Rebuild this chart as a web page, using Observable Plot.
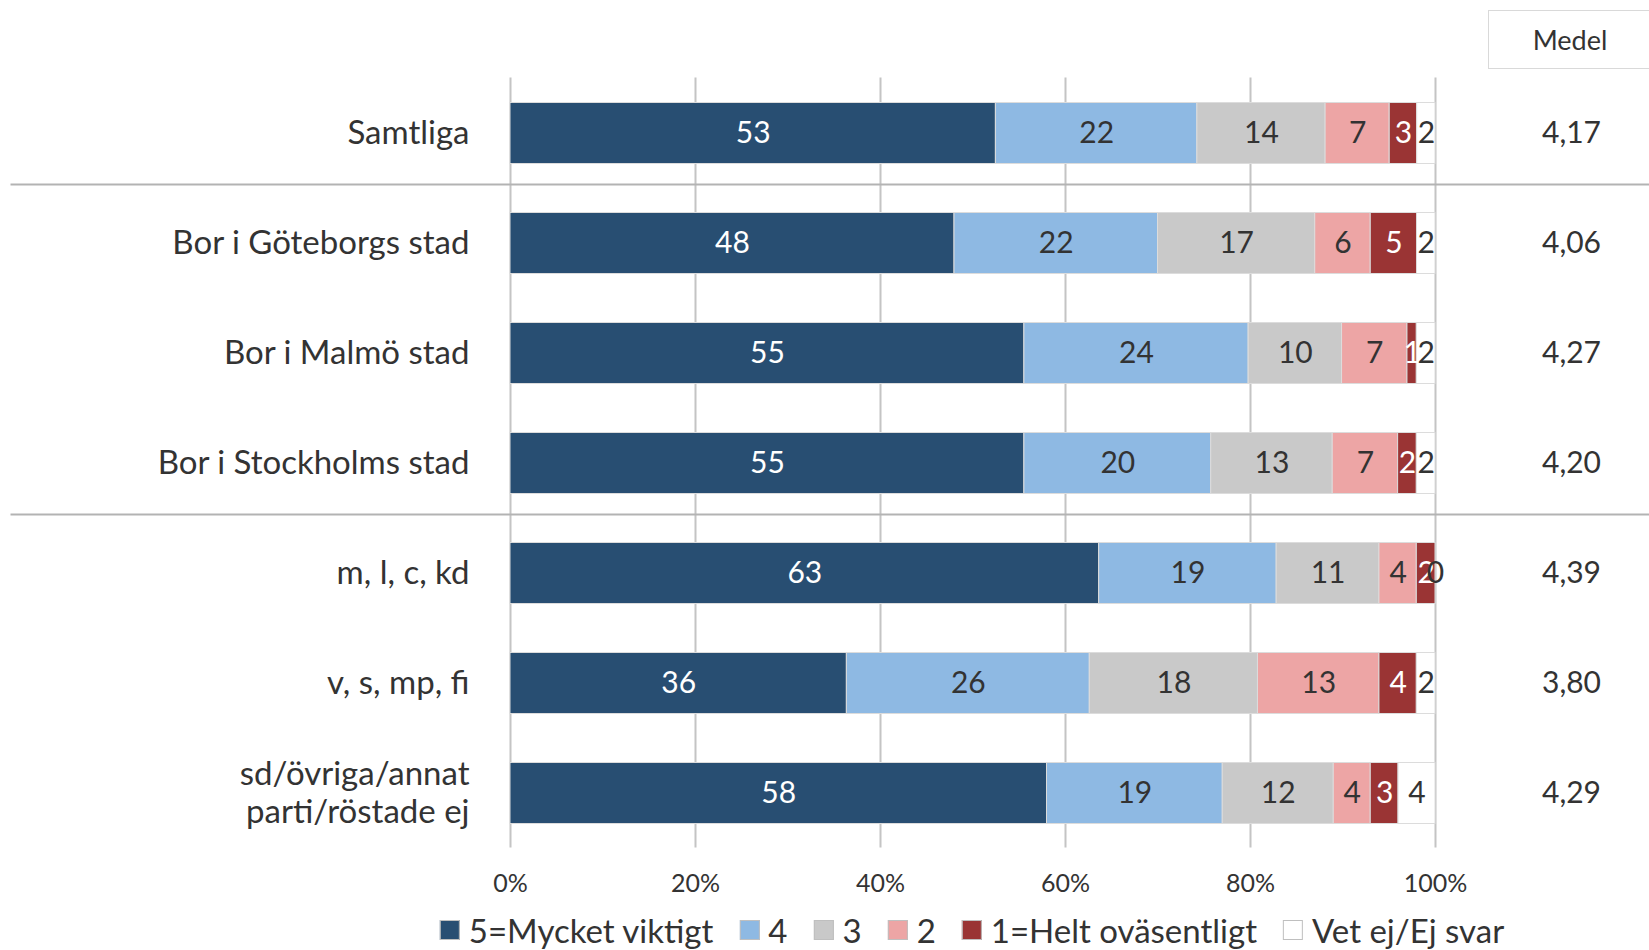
<!DOCTYPE html>
<html><head><meta charset="utf-8">
<script src="https://cdn.jsdelivr.net/npm/d3@7"></script>
<script src="https://cdn.jsdelivr.net/npm/@observablehq/plot@0.6"></script>
<style>
body{margin:0;background:#fff;font-family:Lato,"Open Sans",sans-serif;color:#333;}
#wrap{position:relative;width:1649px;height:950px;overflow:hidden;}
#medel{position:absolute;left:1488px;top:10px;width:164px;height:59px;border:1px solid #d9d9d9;box-sizing:border-box;display:flex;align-items:center;justify-content:center;font-size:27px;color:#333;}
#legend{position:absolute;left:972px;top:910px;height:40px;transform:translateX(-50%);display:flex;align-items:center;white-space:nowrap;font-size:33px;color:#333;}
#legend .item{display:flex;align-items:center;margin:0 13px;}
#legend .sw{width:20px;height:20px;box-sizing:border-box;border:1px solid #bfbfbf;margin-right:9px;}
</style></head>
<body><div id="wrap"><div id="medel">Medel</div><div id="legend"></div></div>
<script>
// ---- data ----
const groups = ["Samtliga","Bor i Göteborgs stad","Bor i Malmö stad","Bor i Stockholms stad","m, l, c, kd","v, s, mp, fi","sd/övriga/annat\nparti/röstade ej"];
const categories = ["5=Mycket viktigt","4","3","2","1=Helt oväsentligt","Vet ej/Ej svar"];
const v5 = [53,48,55,55,63,36,58];
const v4 = [22,22,24,20,19,26,19];
const v3 = [14,17,10,13,11,18,12];
const v2 = [7,6,7,7,4,13,4];
const v1 = [3,5,1,2,2,4,3];
const vetEj = [2,2,2,2,0,2,4];
const medel = ["4,17","4,06","4,27","4,20","4,39","3,80","4,29"];
const xTicks = [0,0.2,0.4,0.6,0.8,1];
const separatorsBefore = ["Bor i Göteborgs stad","m, l, c, kd"];

// ---- styles ----
const colors = ["#284e72","#8eb9e3","#c9c9c9","#eda5a5","#9a3434","#ffffff"];
const whiteLabel = new Set(["5=Mycket viktigt","1=Helt oväsentligt"]);

const series = [v5,v4,v3,v2,v1,vetEj];
const rows = [];
groups.forEach((g,i) => categories.forEach((c,j) => rows.push({group:g, cat:c, value:series[j][i]})));
const medelRows = groups.map((g,i) => ({group:g, medel:medel[i]}));

const stackOpts = {y:"group", x:"value", z:"cat", order:categories, offset:"normalize"};

const chart = Plot.plot({
  width:1649, height:905,
  marginLeft:510, marginRight:214, marginTop:77.5, marginBottom:57.5,
  style:{fontFamily:"Lato, 'Open Sans', sans-serif", color:"#333", background:"white"},
  x:{domain:[0,1]},
  y:{domain:groups, padding:0},
  color:{domain:categories, range:colors},
  marks:[
    Plot.ruleX(xTicks, {stroke:"#c4c4c4", strokeWidth:2}),
    Plot.ruleY(separatorsBefore, {y:d=>d, dy:-59, x1:-0.54, x2:1.24, stroke:"#b3b3b3", strokeWidth:2}),
    Plot.barX(rows, Plot.stackX({...stackOpts, fill:"cat", stroke:"#dcdcdc", strokeWidth:1, insetTop:24.5, insetBottom:24.5})),
    Plot.text(rows, Plot.stackX({...stackOpts, text:d => whiteLabel.has(d.cat) ? String(d.value) : null, fill:"white", fontSize:30})),
    Plot.text(rows, Plot.stackX({...stackOpts, text:d => whiteLabel.has(d.cat) ? null : String(d.value), fill:"#333", fontSize:30})),
    Plot.text(medelRows, {y:"group", text:"medel", frameAnchor:"right", textAnchor:"middle", dx:136, fontSize:30, fill:"#333"}),
    Plot.axisX({ticks:xTicks, tickFormat:d3.format(".0%"), tickSize:0, tickPadding:26, fontSize:25, color:"#333", label:null}),
    Plot.axisY({tickSize:0, tickPadding:41, fontSize:33, lineHeight:1.18, dy:-2, color:"#333", label:null})
  ]
});
const wrap = document.getElementById("wrap");
chart.style.position = "absolute"; chart.style.left = "0"; chart.style.top = "0";
wrap.insertBefore(chart, wrap.firstChild);

const legend = document.getElementById("legend");
categories.forEach((c,j) => {
  const it = document.createElement("div"); it.className = "item";
  const sw = document.createElement("div"); sw.className = "sw"; sw.style.background = colors[j];
  const tx = document.createElement("span"); tx.textContent = c;
  it.appendChild(sw); it.appendChild(tx); legend.appendChild(it);
});
</script>
</body></html>
